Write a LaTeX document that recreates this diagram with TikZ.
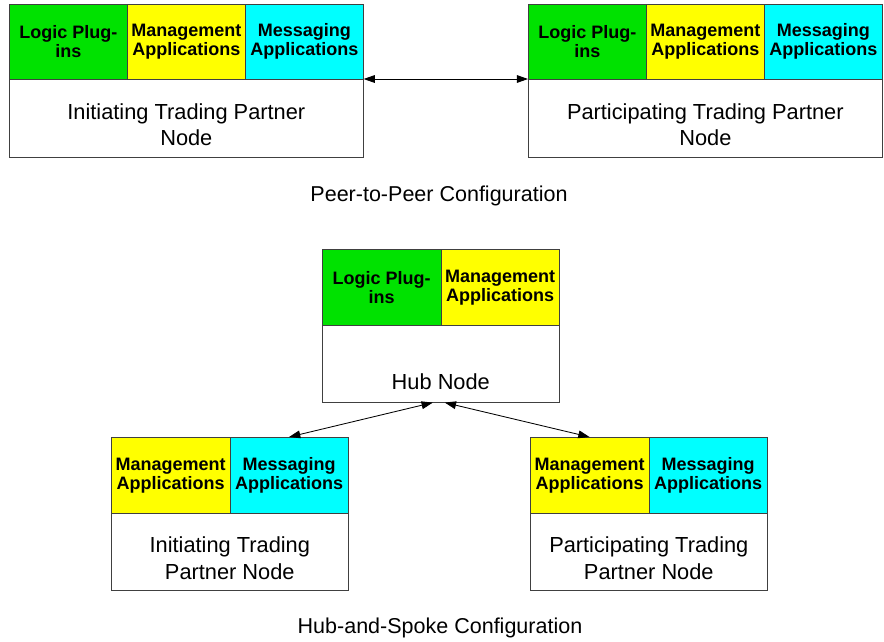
\documentclass[tikz,border=0pt]{standalone}
\usepackage{fontspec}
\setmainfont{Liberation Sans}
\usetikzlibrary{arrows.meta}

\definecolor{logicgreen}{RGB}{0,226,0}
\definecolor{mgmtyellow}{RGB}{255,255,0}
\definecolor{msgcyan}{RGB}{0,255,255}
\definecolor{edgegray}{RGB}{64,64,64}

\tikzset{
    cell/.style={draw=edgegray, inner sep=0pt, anchor=north west, align=center,
        minimum width=2.95cm, minimum height=1.875cm,
        font=\bfseries\fontsize{12.8}{13.5}\selectfont},
    body/.style={draw=edgegray, fill=white, inner sep=0pt, anchor=north west,
        minimum width=8.85cm, minimum height=1.95cm},
    smallcell/.style={cell, minimum width=2.9625cm, minimum height=1.9cm},
    smallbody/.style={body, minimum width=5.925cm, minimum height=1.925cm},
    bodytext/.style={align=center, inner sep=0pt, font=\fontsize{15.5}{18.5}\selectfont},
    caption/.style={inner sep=0pt, font=\fontsize{15.3}{17}\selectfont},
    link/.style={black, line width=0.6pt, {Triangle[length=8pt,width=5.5pt]}-{Triangle[length=8pt,width=5.5pt]}}
}

\begin{document}
\begin{tikzpicture}[x=0.025cm, y=-0.025cm]
    \useasboundingbox (0,0) rectangle (884,641);

    % peer-to-peer, left partner
    \node[cell, fill=logicgreen] (tlLogic) at (9,4) {Logic Plug-\\ins};
    \node[cell, fill=mgmtyellow] (tlMgmt) at (127,4) {Management\\Applications};
    \node[cell, fill=msgcyan] (tlMsg) at (245,4) {Messaging\\Applications};
    \node[body] (tlBody) at (9,79) {};
    \node[bodytext] (tlText) at ([yshift=-0.15cm]tlBody.center) {Initiating Trading Partner\\Node};

    % peer-to-peer, right partner
    \node[cell, fill=logicgreen] (trLogic) at (528,4) {Logic Plug-\\ins};
    \node[cell, fill=mgmtyellow] (trMgmt) at (646,4) {Management\\Applications};
    \node[cell, fill=msgcyan] (trMsg) at (764,4) {Messaging\\Applications};
    \node[body] (trBody) at (528,79) {};
    \node[bodytext] (trText) at ([yshift=-0.15cm]trBody.center) {Participating Trading Partner\\Node};

    \draw[link] (tlBody.north east) -- (trBody.north west);
    \node[caption] (p2pCaption) at (439,196) {Peer-to-Peer Configuration};

    % hub
    \node[smallcell, fill=logicgreen] (hubLogic) at (322,249) {Logic Plug-\\ins};
    \node[smallcell, fill=mgmtyellow] (hubMgmt) at (440.5,249) {Management\\Applications};
    \node[smallbody] (hubBody) at (322,325) {};
    \node[bodytext] (hubText) at ([yshift=-0.45cm]hubBody.center) {Hub Node};

    % spoke, left partner
    \node[smallcell, fill=mgmtyellow] (blMgmt) at (111,437) {Management\\Applications};
    \node[smallcell, fill=msgcyan] (blMsg) at (229.5,437) {Messaging\\Applications};
    \node[smallbody] (blBody) at (111,513) {};
    \node[bodytext] (blText) at ([yshift=-0.16cm]blBody.center) {Initiating Trading\\Partner Node};

    % spoke, right partner
    \node[smallcell, fill=mgmtyellow] (brMgmt) at (530,437) {Management\\Applications};
    \node[smallcell, fill=msgcyan] (brMsg) at (648.5,437) {Messaging\\Applications};
    \node[smallbody] (brBody) at (530,513) {};
    \node[bodytext] (brText) at ([yshift=-0.16cm]brBody.center) {Participating Trading\\Partner Node};

    \draw[link] (blMsg.north) -- ([xshift=-0.2cm]hubBody.south);
    \draw[link] ([xshift=0.1cm]hubBody.south) -- (brMgmt.north);
    \node[caption] (hsCaption) at (440,628) {Hub-and-Spoke Configuration};
\end{tikzpicture}
\end{document}
